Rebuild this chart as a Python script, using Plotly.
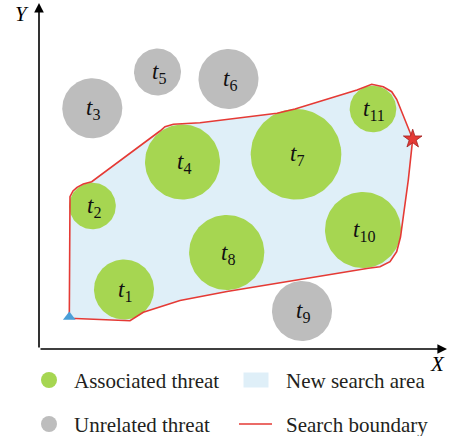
import numpy as np
import plotly.graph_objects as go

# ---------------- data (pixel-like units) ----------------
threat_labels = ["1", "2", "3", "4", "5", "6", "7", "8", "9", "10", "11"]
threat_x = [124, 92.5, 92.3, 182.5, 157.5, 228.5, 296, 226.7, 302, 363, 373]
threat_y = [289.5, 206, 108.3, 162, 72, 79, 154.3, 252.5, 311, 230, 109]
threat_r = [30, 23.3, 30, 37.5, 23.5, 30, 45.3, 37.6, 30, 38, 23.3]
threat_associated = [True, True, False, True, False, False, True, True, False, True, True]

boundary_x = [69.3, 69.3, 70, 73, 77, 83.3, 91.7, 160, 165, 173.3, 200, 277, 295, 357,
              371.7, 383.3, 391.7, 396.7, 412.7, 408.3, 400.5, 396.7, 390, 380, 368.3,
              227, 180, 143.3, 130, 69.3]
boundary_y = [318.3, 204, 196.7, 191, 187.3, 184, 181.7, 131, 126.7, 124.3, 122.7, 113.3,
              109, 90, 84.3, 86.7, 91.7, 99.3, 139, 180, 237, 251.7, 261.7, 266.7, 268.3,
              291.5, 300.5, 312.3, 320.7, 318.3]

start_point = (69.3, 317)
end_point = (412.7, 139)

legend_names = ["Associated threat", "New search area", "Unrelated threat", "Search boundary"]

origin = (39, 349)
x_axis_end = 447
y_axis_end = 3

GREEN = "#A6D651"
GRAY = "#BDBDBD"
AREA = "#DFEFF8"
RED = "#E53A35"
BLUE = "#4A9FD8"
SERIF = "Liberation Serif, DejaVu Serif, serif"
TXT = "#231F20"

fig = go.Figure()

# search area fill
fig.add_trace(go.Scatter(x=boundary_x, y=boundary_y, mode="lines", fill="toself",
                         fillcolor=AREA, line=dict(width=0, color=AREA),
                         name=legend_names[1], hoverinfo="skip"))

# threat circles
theta = np.linspace(0, 2 * np.pi, 121)
for lab, cx, cy, r, assoc in zip(threat_labels, threat_x, threat_y, threat_r, threat_associated):
    col = GREEN if assoc else GRAY
    fig.add_trace(go.Scatter(x=cx + r * np.cos(theta), y=cy + r * np.sin(theta),
                             mode="lines", fill="toself", fillcolor=col,
                             line=dict(width=0, color=col),
                             name=legend_names[0] if assoc else legend_names[2],
                             hoverinfo="skip"))
    fig.add_annotation(x=cx + 1, y=cy + 1, xref="x", yref="y", showarrow=False,
                       text=f"<i>t</i><sub>{lab}</sub>",
                       font=dict(family=SERIF, size=23, color="#111111"))

# boundary line
fig.add_trace(go.Scatter(x=boundary_x, y=boundary_y, mode="lines",
                         line=dict(color=RED, width=1.6), name=legend_names[3],
                         hoverinfo="skip"))

# start / end markers
fig.add_trace(go.Scatter(x=[start_point[0]], y=[start_point[1]], mode="markers",
                         marker=dict(symbol="triangle-up", size=11, color=BLUE),
                         hoverinfo="skip"))
fig.add_trace(go.Scatter(x=[end_point[0]], y=[end_point[1]], mode="markers",
                         marker=dict(symbol="star", size=14, color=RED,
                                     line=dict(color="#A02020", width=0.8)),
                         hoverinfo="skip"))

# ---------------- key (drawn manually below the axes) ----------------
key_row_y = [380, 424]
key_col_x = [49, 256]
key_text_x = [72, 284]

fig.add_trace(go.Scatter(x=[key_col_x[0], key_col_x[0]], y=key_row_y, mode="markers",
                         marker=dict(size=16, color=[GREEN, GRAY]), hoverinfo="skip"))
fig.add_shape(type="rect", x0=key_col_x[1] - 12.5, x1=key_col_x[1] + 12.5,
              y0=key_row_y[0] - 7.5, y1=key_row_y[0] + 7.5, xref="x", yref="y",
              fillcolor=AREA, line=dict(width=0))
fig.add_shape(type="line", x0=key_col_x[1] - 17, x1=key_col_x[1] + 16,
              y0=key_row_y[1], y1=key_row_y[1], xref="x", yref="y",
              line=dict(color=RED, width=1.6))
for i, name in enumerate(legend_names):
    row, col = divmod(i, 2)
    fig.add_annotation(x=key_text_x[col], y=key_row_y[row] + 1, xref="x", yref="y",
                       xanchor="left", yanchor="middle", showarrow=False, text=name,
                       font=dict(family=SERIF, size=21, color=TXT))

# axes with arrows
fig.add_annotation(x=x_axis_end, y=origin[1], ax=origin[0], ay=origin[1], xref="x", yref="y",
                   axref="x", ayref="y", text="", showarrow=True, arrowhead=2,
                   arrowsize=1.2, arrowwidth=1.6, arrowcolor="black")
fig.add_annotation(x=origin[0], y=y_axis_end, ax=origin[0], ay=origin[1], xref="x", yref="y",
                   axref="x", ayref="y", text="", showarrow=True, arrowhead=2,
                   arrowsize=1.2, arrowwidth=1.6, arrowcolor="black")
fig.add_annotation(x=21.5, y=14, xref="x", yref="y", showarrow=False, text="<i>Y</i>",
                   font=dict(family=SERIF, size=21, color="black"))
fig.add_annotation(x=437, y=364, xref="x", yref="y", showarrow=False, text="<i>X</i>",
                   font=dict(family=SERIF, size=21, color="black"))

fig.update_layout(
    width=449, height=436,
    margin=dict(l=0, r=0, t=0, b=0),
    paper_bgcolor="white", plot_bgcolor="white",
    xaxis=dict(range=[0, 449], visible=False, fixedrange=True),
    yaxis=dict(range=[436, 0], visible=False, fixedrange=True),
    showlegend=False,
)

fig.write_html("out.html", config={"displayModeBar": False},
               post_script="document.body.style.margin='0';document.body.style.overflow='hidden';")
